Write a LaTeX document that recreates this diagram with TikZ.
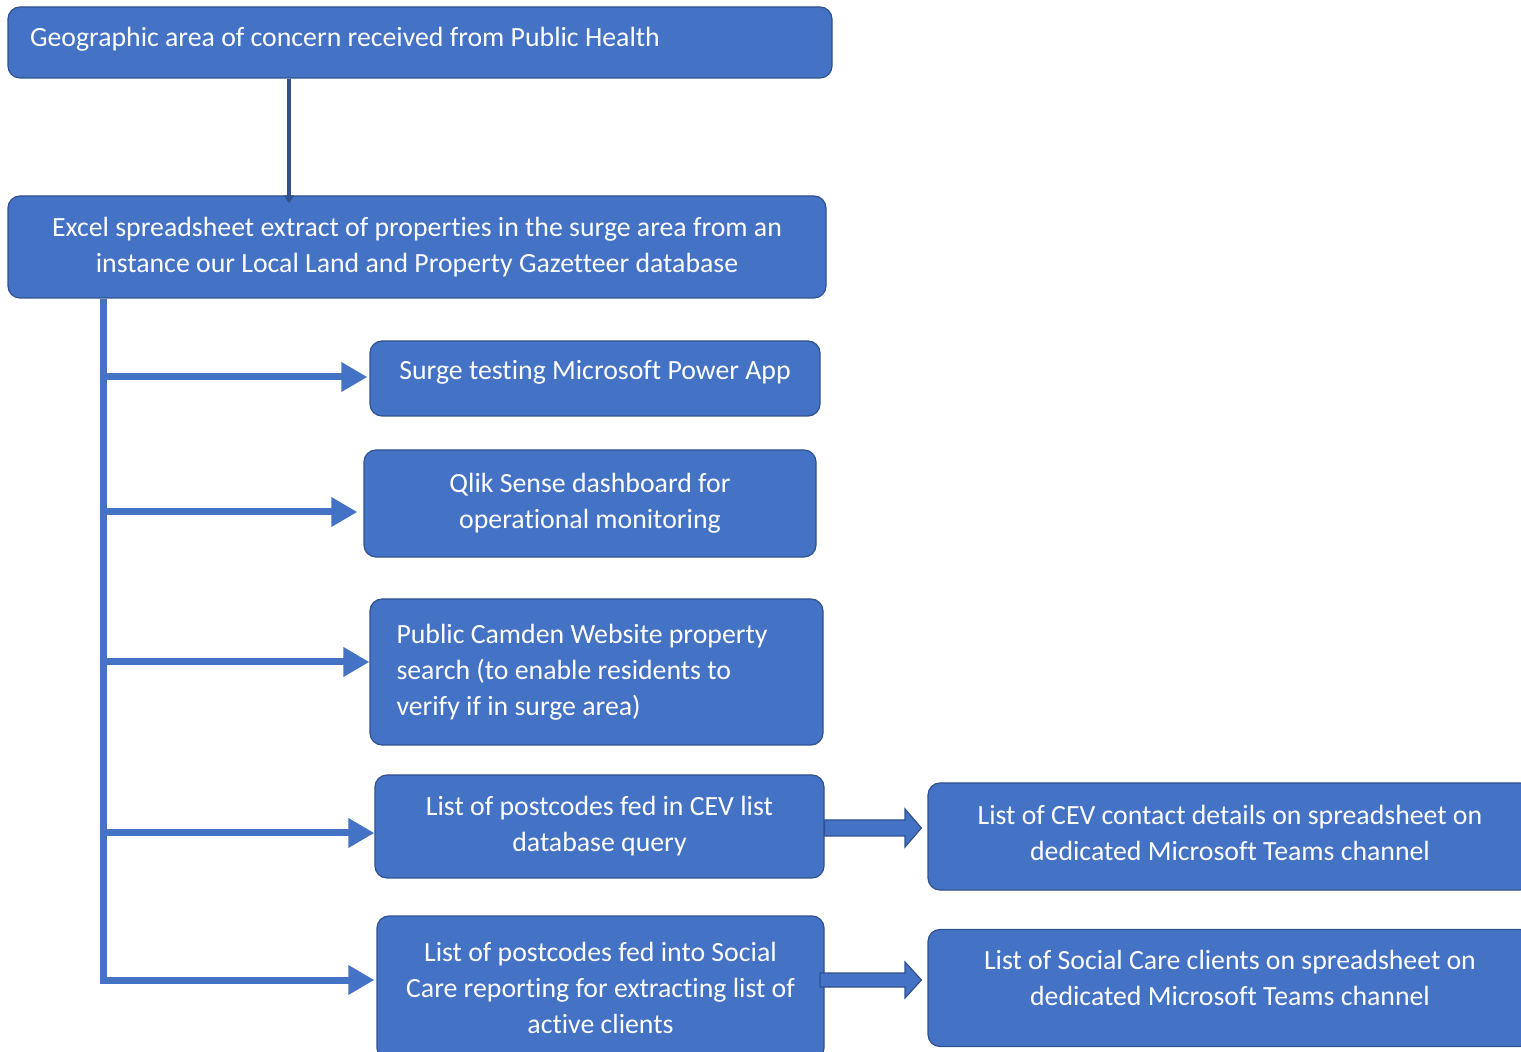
\documentclass[tikz,border=0pt]{standalone}
\usepackage{fontspec}
\setmainfont{Carlito}[Ligatures=NoCommon]
\usetikzlibrary{arrows.meta,calc}
\definecolor{boxblue}{HTML}{4472C4}
\definecolor{boxedge}{HTML}{2F528F}
\newcommand\liftby[2]{\raisebox{0pt}[\height][\dimexpr\depth+#1\relax]{#2}}
\tikzset{
  boxraw/.style={draw=boxedge, line width=0.6pt, fill=boxblue, rounded corners=6pt,
    text=white, font=\fontsize{13.9}{18}\selectfont, inner sep=0pt},
  box/.style={boxraw, align=center},
  branch/.style={draw=boxblue, line width=3.5pt, -{Triangle[length=13pt,width=14pt]}},
  trunk/.style={draw=boxblue, line width=3.5pt},
  thinarrow/.style={draw=boxedge, line width=2pt, -{Triangle[length=4pt,width=5pt]}},
  blk/.style={draw=boxedge, line width=0.6pt, fill=boxblue, line join=miter}
}
\begin{document}
\begin{tikzpicture}[x=0.5pt,y=-0.5pt]
\useasboundingbox (0,0) rectangle (1521,1052);
\clip (0,0) rectangle (1521,1052);
\node[boxraw, minimum width=412pt, minimum height=35.5pt] (b1) at (420,42.5)
  {\liftby{3pt}{\makebox[390pt][l]{Geographic area of concern received from Public Health}}};
\node[box, minimum width=409pt, minimum height=51pt] (b2) at (417,247)
  {Excel spreadsheet extract of properties in the surge area from an\\instance our Local Land and Property Gazetteer database};
\node[boxraw, minimum width=225pt, minimum height=37.5pt] (b3) at (595,378.5)
  {\liftby{6pt}{Surge testing Microsoft Power App}};
\node[box, minimum width=226pt, minimum height=53.5pt] (b4) at (590,503.5)
  {Qlik Sense dashboard for\\operational monitoring};
\node[box, minimum width=226.5pt, minimum height=73pt, text width=200pt, align=flush left] (b5) at (596.5,672)
  {Public Camden Website property\\search (to enable residents to\\verify if in surge area)};
\node[box, minimum width=224.5pt, minimum height=51.5pt] (b6) at (599.5,826.5)
  {List of postcodes fed in CEV list\\database query};
\node[box, minimum width=223.5pt, minimum height=72pt] (b7) at (600.5,988)
  {List of postcodes fed into Social\\Care reporting for extracting list of\\active clients};
\node[boxraw, minimum width=302pt, minimum height=53.5pt] (b8) at (1230,836.5)
  {\liftby{1.5pt}{\begin{tabular}{@{}c@{}}List of CEV contact details on spreadsheet on\\dedicated Microsoft Teams channel\end{tabular}}};
\node[boxraw, minimum width=302pt, minimum height=58.5pt] (b9) at (1230,988)
  {\liftby{8pt}{\begin{tabular}{@{}c@{}}List of Social Care clients on spreadsheet on\\dedicated Microsoft Teams channel\end{tabular}}};

% top connector
\coordinate (tx) at (289,0);
\draw[thinarrow] (tx |- b1.south) -- ($(tx |- b2.north)+(0,8)$);

% trunk and branches
\coordinate (tk) at (103,0);
\draw[trunk] (tk |- b2.south) -- (103,983.5);
\draw[branch] (103,377) -- ($(b3.west |- 0,377)+(-2,0)$);
\draw[branch] (103,512) -- ($(b4.west |- 0,512)+(-6,0)$);
\draw[branch] (103,662) -- ($(b5.west |- 0,662)+(0,0)$);
\draw[branch] (103,833) -- ($(b6.west |- 0,833)+(0,0)$);
\draw[branch] (103,980) -- ($(b7.west |- 0,980)+(-2,0)$);

% block arrows
\draw[blk] (b6.east |- 0,820) -- (905,820) -- (905,809) -- ($(b8.west |- 0,828)+(-6,0)$)
  -- (905,847) -- (905,836) -- (b6.east |- 0,836) -- cycle;
\draw[blk] (820,973) -- (905,973) -- (905,962) -- ($(b9.west |- 0,980)+(-6,0)$)
  -- (905,998) -- (905,987) -- (820,987) -- cycle;
\end{tikzpicture}
\end{document}
